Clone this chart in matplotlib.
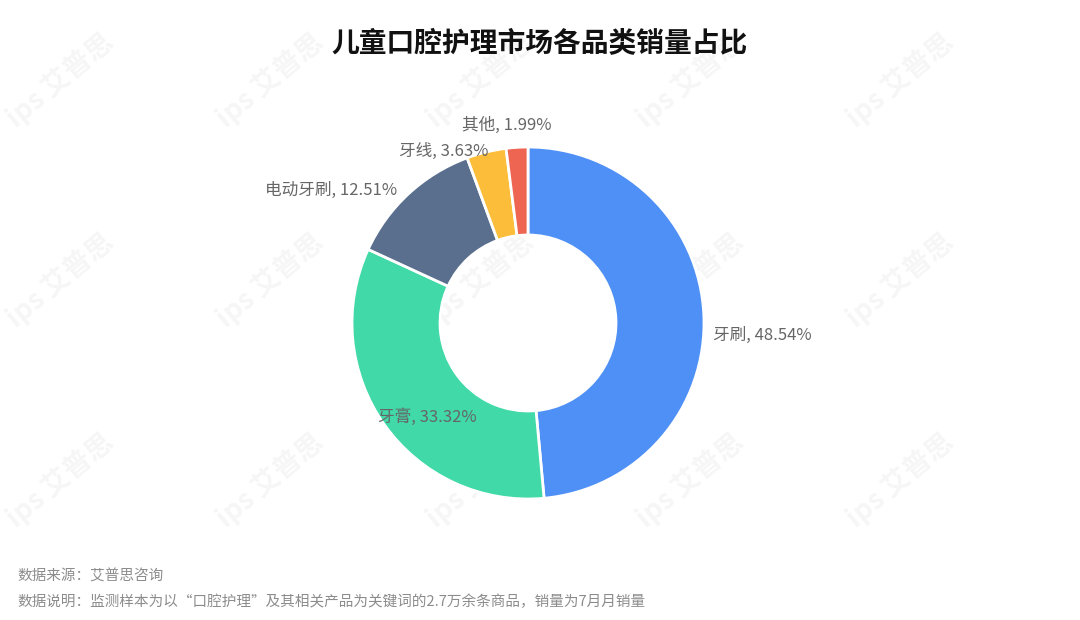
import numpy as np
import matplotlib
matplotlib.use("Agg")
import matplotlib.pyplot as plt

plt.rcParams['font.family'] = ['Noto Sans CJK SC', 'DejaVu Sans']

# --- data ---
categories = ["牙刷", "牙膏", "电动牙刷", "牙线", "其他"]
shares = [48.54, 33.32, 12.51, 3.63, 1.99]
colors = ["#4F90F6", "#40D9A7", "#5A6E8E", "#FCBD3A", "#EE6651"]

title = "儿童口腔护理市场各品类销量占比"
source_note = "数据来源：艾普思咨询"
sample_note = "数据说明：监测样本为以“口腔护理”及其相关产品为关键词的2.7万余条商品，销量为7月月销量"

W, H = 1080, 620
fig = plt.figure(figsize=(W / 100, H / 100), dpi=100)
ax = fig.add_axes([0, 0, 1, 1])
ax.set_xlim(0, W)
ax.set_ylim(0, H)
ax.set_aspect('equal')
ax.axis('off')

cx, cy, R = 528, H - 323, 176

# faint watermarks
for wx in np.arange(60, W, 210):
    for wy in np.arange(80, H, 200):
        ax.text(wx, H - wy, "ips 艾普思", fontsize=20, color="#000000", alpha=0.04,
                rotation=40, ha='center', va='center', fontweight='bold', zorder=0)

wedges, _ = ax.pie(shares, colors=colors, startangle=90, counterclock=False,
                   center=(cx, cy), radius=R, frame=True,
                   wedgeprops=dict(width=R * 0.5, edgecolor='white', linewidth=2))
ax.set_xlim(0, W)
ax.set_ylim(0, H)
ax.axis('off')

# label placement: mid-angle anchor, alignment and pixel nudges (down = +)
align = ["left", "left", "right", "right", "center"]
nudge = [(0, 21), (1, -13), (-5, 3), (4, 8), (-10, -13)]
for w, cat, s, ha, (dx, dy) in zip(wedges, categories, shares, align, nudge):
    ang = np.deg2rad((w.theta1 + w.theta2) / 2)
    x = cx + (R + 9) * np.cos(ang) + dx
    y = cy + (R + 9) * np.sin(ang) - dy
    ax.text(x, y, f"{cat}, {s:.2f}%", ha=ha, va='center', fontsize=12,
            color="#666666", fontweight='light')

fig.text(0.5, 1 - 44 / H, title, ha='center', va='center', fontsize=20,
         fontweight='heavy', color="#111111")
fig.text(17 / W, 1 - 577 / H, source_note, ha='left', va='center', fontsize=10.5,
         color="#8c8c8c")
fig.text(17 / W, 1 - 602 / H, sample_note, ha='left', va='center', fontsize=10.5,
         color="#8c8c8c")

fig.savefig("out.png", dpi=100, facecolor='white')
